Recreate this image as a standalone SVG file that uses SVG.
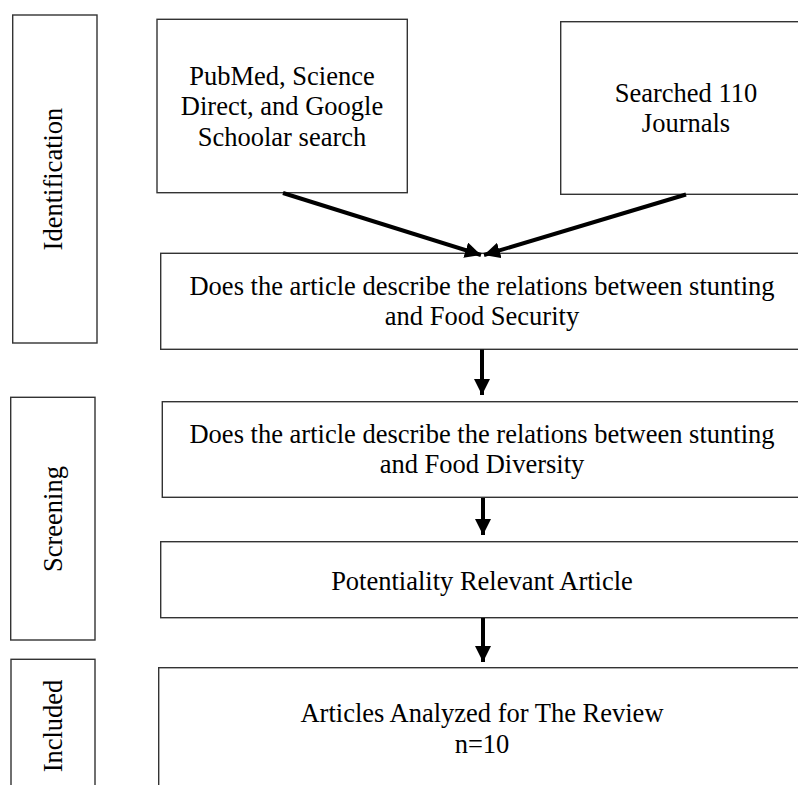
<svg xmlns="http://www.w3.org/2000/svg" width="798" height="785" viewBox="0 0 798 785">
<defs>
<style>
.box{fill:#fff;stroke:#333;stroke-width:1.4}
.t{font-family:"Liberation Serif","Times New Roman",serif;font-size:26.5px;fill:#000;text-anchor:middle}
.c{stroke:#000;stroke-width:4;fill:none}
</style>
<marker id="ah" markerUnits="userSpaceOnUse" markerWidth="16" markerHeight="16" refX="15" refY="7.5" orient="auto" viewBox="0 0 15 15">
<path d="M0,0 L15,7.5 L0,15 z" fill="#000"/>
</marker>
</defs>
<rect width="798" height="785" fill="#fff"/>
<g id="stage-identification">
<rect class="box" x="12.7" y="15" width="84.3" height="328"/>
<text class="t" transform="translate(62,179) rotate(-90)">Identification</text>
</g>
<g id="stage-screening">
<rect class="box" x="10.7" y="397.3" width="84.3" height="242.7"/>
<text class="t" transform="translate(62,519) rotate(-90)">Screening</text>
</g>
<g id="stage-included">
<rect class="box" x="11" y="659.3" width="84" height="200"/>
<text class="t" transform="translate(62,726) rotate(-90)">Included</text>
</g>
<g id="node-databases">
<rect class="box" x="157" y="19.3" width="250.3" height="173.4"/>
<text class="t" x="282" y="85">PubMed, Science</text>
<text class="t" x="282" y="115">Direct, and Google</text>
<text class="t" x="282" y="146">Schoolar search</text>
</g>
<g id="node-journals">
<rect class="box" x="560.7" y="21.7" width="260" height="172.6"/>
<text class="t" x="686" y="101.5">Searched 110</text>
<text class="t" x="686" y="132">Journals</text>
</g>
<g id="node-security">
<rect class="box" x="160.7" y="253.3" width="660" height="96"/>
<text class="t" x="482" y="295">Does the article describe the relations between stunting</text>
<text class="t" x="482" y="325">and Food Security</text>
</g>
<g id="node-diversity">
<rect class="box" x="162.3" y="401.7" width="660" height="95.6"/>
<text class="t" x="482" y="443.3">Does the article describe the relations between stunting</text>
<text class="t" x="482" y="473.3">and Food Diversity</text>
</g>
<g id="node-relevant">
<rect class="box" x="160.7" y="541.7" width="660" height="76"/>
<text class="t" x="482" y="590">Potentiality Relevant Article</text>
</g>
<g id="node-analyzed">
<rect class="box" x="158.7" y="667.7" width="660" height="200"/>
<text class="t" x="482" y="721.7">Articles Analyzed for The Review</text>
<text class="t" x="482" y="753.3">n=10</text>
</g>
<g id="connectors">
<line class="c" x1="283" y1="193" x2="481" y2="255" marker-end="url(#ah)"/>
<line class="c" x1="686" y1="194.5" x2="484" y2="255" marker-end="url(#ah)"/>
<line class="c" x1="482" y1="349.5" x2="482" y2="395" marker-end="url(#ah)"/>
<line class="c" x1="483" y1="498" x2="483" y2="535" marker-end="url(#ah)"/>
<line class="c" x1="483" y1="618" x2="483" y2="662" marker-end="url(#ah)"/>
</g>
</svg>
